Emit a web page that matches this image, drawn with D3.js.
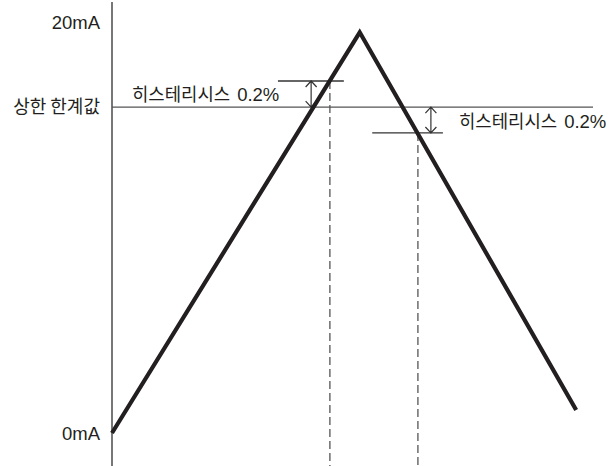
<!DOCTYPE html>
<html><head><meta charset="utf-8">
<script src="https://cdn.jsdelivr.net/npm/d3@7"></script>
<style>
html,body{margin:0;padding:0;background:#fff;}
svg{display:block;}
text,tspan{font-family:"Liberation Sans",Arial,"Noto Sans CJK KR",sans-serif;fill:#231f20;}
.kr{font-family:"Noto Sans CJK KR","Liberation Sans",sans-serif;}
</style></head>
<body>
<svg id="c" width="610" height="466"></svg>
<script>
// ---- data ----
const xDomain = [0, 100];          // time (arbitrary units)
const yDomain = [0, 20];           // current, mA
const signalX = [0, 51.5, 96.5];
const signalY = [0, 19.5, 1.12];
const limitValue = 15.86;          // 상한 한계값
const hystHigh = 17.13;            // limit + 0.2%
const hystLow = 14.6;              // limit - 0.2%
const hystHighSpan = [34.5, 48.2];
const hystLowSpan = [54.1, 68.8];
const switchX = [45.3, 63.6];      // switching points (dashed)
const arrowX = [41.4, 66.3];
const yTickValues = [20, limitValue, 0];
const yTickLabels = ["20mA", "상한 한계값", "0mA"];
const hystWord = "히스테리시스";
const hystPct = "0.2%";

// ---- drawing ----
const svg = d3.select("#c");
const x = d3.scaleLinear().domain(xDomain).range([112, 593]);
const y = d3.scaleLinear().domain(yDomain).range([433, 22]);
const bottom = 466;

// y axis line
svg.append("line").attr("x1", x(0)).attr("x2", x(0)).attr("y1", 2).attr("y2", bottom)
  .attr("stroke", "#555").attr("stroke-width", 1.6);

// tick labels
const tickDy = [6.5, 6, 7];
yTickValues.forEach((v, i) => {
  svg.append("text").attr("class", i === 1 ? "kr" : null)
    .attr("x", x(0) - 12).attr("y", y(v) + tickDy[i])
    .attr("text-anchor", "end")
    .attr("font-size", i === 1 ? 18 : 18.5)
    .text(yTickLabels[i]);
});

// limit line
svg.append("line").attr("x1", x(0)).attr("x2", x(100)).attr("y1", y(limitValue)).attr("y2", y(limitValue))
  .attr("stroke", "#555").attr("stroke-width", 1.4);

// hysteresis lines
svg.append("line").attr("x1", x(hystHighSpan[0])).attr("x2", x(hystHighSpan[1]))
  .attr("y1", y(hystHigh)).attr("y2", y(hystHigh)).attr("stroke", "#333").attr("stroke-width", 1.3);
svg.append("line").attr("x1", x(hystLowSpan[0])).attr("x2", x(hystLowSpan[1]))
  .attr("y1", y(hystLow)).attr("y2", y(hystLow)).attr("stroke", "#333").attr("stroke-width", 1.3);

// dashed verticals
[[switchX[0], hystHigh], [switchX[1], hystLow]].forEach(([sx, sy]) => {
  svg.append("line").attr("x1", x(sx)).attr("x2", x(sx)).attr("y1", y(sy)).attr("y2", bottom)
    .attr("stroke", "#555").attr("stroke-width", 1.3).attr("stroke-dasharray", "8,4");
});

// double arrows
function dblArrow(ax, v1, v2) {
  const px = x(ax), ya = y(v1), yb = y(v2);
  const w = 5.5, h = 6;
  svg.append("path")
    .attr("d", `M${px},${ya}L${px},${yb}M${px - w},${ya + h}L${px},${ya}L${px + w},${ya + h}M${px - w},${yb - h}L${px},${yb}L${px + w},${yb - h}`)
    .attr("fill", "none").attr("stroke", "#333").attr("stroke-width", 1.2);
}
dblArrow(arrowX[0], hystHigh, limitValue);
dblArrow(arrowX[1], limitValue, hystLow);

// signal
const line = d3.line().x(d => x(d[0])).y(d => y(d[1]));
svg.append("path").datum(d3.zip(signalX, signalY)).attr("d", line)
  .attr("fill", "none").attr("stroke", "#231f20").attr("stroke-width", 4.2)
  .attr("stroke-linejoin", "miter").attr("stroke-miterlimit", 10);

// hysteresis labels
[[132, 100.5], [459, 127.5]].forEach(([lx, ly]) => {
  const t = svg.append("text").attr("x", lx).attr("y", ly);
  t.append("tspan").attr("class", "kr").attr("font-size", 17.8).text(hystWord);
  t.append("tspan").attr("font-size", 18.5).attr("dx", 7).text(hystPct);
});
</script>
</body></html>
